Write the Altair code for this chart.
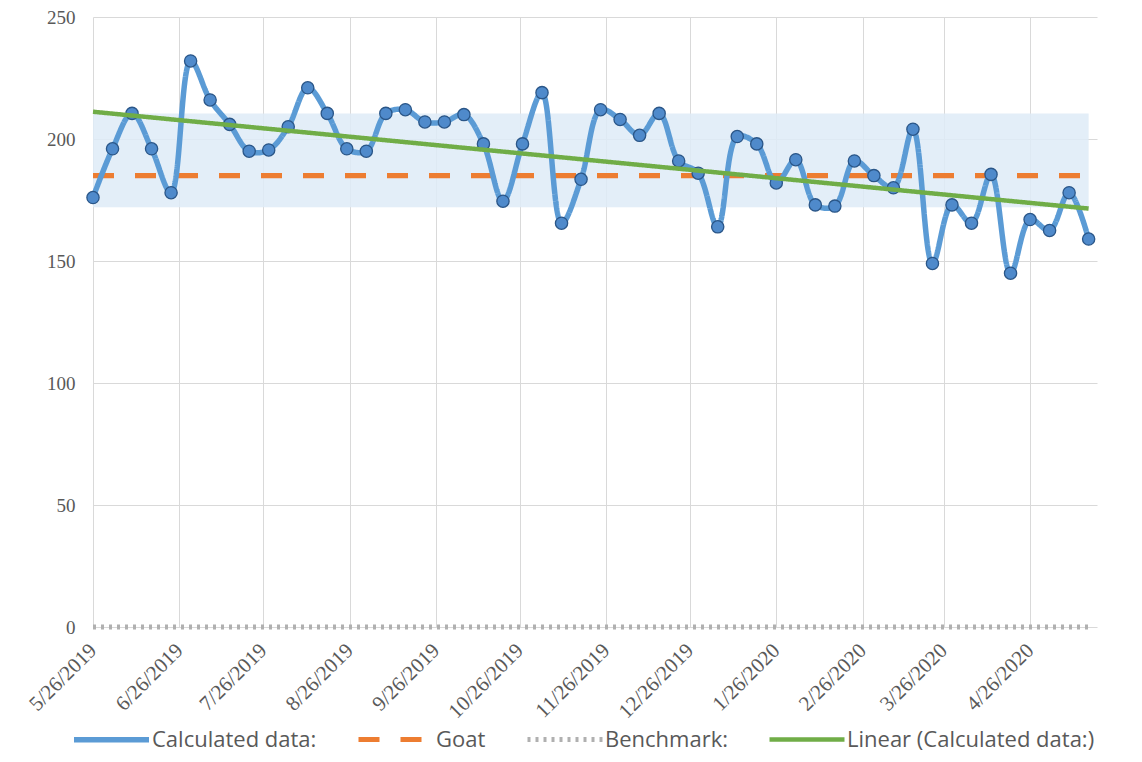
import altair as alt
import pandas as pd

# ---- data ----
DATES = [
    "2019-05-26", "2019-06-02", "2019-06-09", "2019-06-16", "2019-06-23", "2019-06-30",
    "2019-07-07", "2019-07-14", "2019-07-21", "2019-07-28",
    "2019-08-04", "2019-08-11", "2019-08-18", "2019-08-25",
    "2019-09-01", "2019-09-08", "2019-09-15", "2019-09-22", "2019-09-29",
    "2019-10-06", "2019-10-13", "2019-10-20", "2019-10-27",
    "2019-11-03", "2019-11-10", "2019-11-17", "2019-11-24",
    "2019-12-01", "2019-12-08", "2019-12-15", "2019-12-22", "2019-12-29",
    "2020-01-05", "2020-01-12", "2020-01-19", "2020-01-26",
    "2020-02-02", "2020-02-09", "2020-02-16", "2020-02-23",
    "2020-03-01", "2020-03-08", "2020-03-15", "2020-03-22", "2020-03-29",
    "2020-04-05", "2020-04-12", "2020-04-19", "2020-04-26",
    "2020-05-03", "2020-05-10", "2020-05-17",
]
VALUES = [
    176, 196, 210.5, 196, 178, 232, 216, 206, 195, 195.5,
    205, 221, 210.5, 196, 195, 210.5, 212, 207, 207, 210,
    198, 174.5, 198, 219, 165.5, 183.5, 212, 208, 201.5, 210.5,
    191, 186, 164, 201, 198, 182, 191.5, 173, 172.5, 191,
    185, 180, 204, 149, 173, 165.5, 185.5, 145, 167, 162.5,
    178, 159,
]
GOAL = 185
BENCHMARK = 0
BAND_LOW = 172
BAND_HIGH = 210.5

SERIES = ["Calculated data:", "Goat", "Benchmark:", "Linear (Calculated data:)"]
SERIES_COLORS = ["#5b9bd5", "#ed7d31", "#b0b0b0", "#70ad47"]
SERIES_DASH = [[1, 0], [21, 21], [3, 5], [1, 0]]
SERIES_WIDTH = [5.5, 4.5, 1.8, 2.5]

TICK_DATES = [(2019, m) for m in range(5, 13)] + [(2020, m) for m in range(1, 5)]

# ---- tables ----
dates = [d.replace("-", "/") for d in DATES]
df = pd.DataFrame({
    "date": dates,
    "value": VALUES,
    "goal": [GOAL] * len(dates),
    "bench": [BENCHMARK] * len(dates),
    "low": [BAND_LOW] * len(dates),
    "high": [BAND_HIGH] * len(dates),
})

LABEL_COLOR = "#595959"
GRID = "#d9d9d9"

x_scale = alt.Scale(domain=[alt.DateTime(year=2019, month=5, date=26),
                            alt.DateTime(year=2020, month=5, date=20)])
x_axis = alt.Axis(
    values=[alt.DateTime(year=y, month=m, date=26) for y, m in TICK_DATES],
    format="%-m/%-d/%Y", labelAngle=-45, labelAlign="right", labelBaseline="middle",
    labelPadding=20, labelFont="Liberation Serif", labelFontSize=21, labelColor=LABEL_COLOR,
    grid=True, gridColor=GRID, ticks=False, domain=False, title=None, labelOverlap=False,
)
y_scale = alt.Scale(domain=[0, 250], nice=False)
y_axis = alt.Axis(
    values=[0, 50, 100, 150, 200, 250], labelFont="Liberation Serif", labelFontSize=19,
    labelColor=LABEL_COLOR, labelPadding=18, grid=True, gridColor=GRID, ticks=False,
    domain=False, title=None,
)

X = alt.X("date:T", scale=x_scale, axis=x_axis)

color = alt.Color("series:N", scale=alt.Scale(domain=SERIES, range=SERIES_COLORS),
                  legend=alt.Legend(title=None))
dash = alt.StrokeDash("series:N", scale=alt.Scale(domain=SERIES, range=SERIES_DASH),
                      legend=alt.Legend(title=None))
width = alt.StrokeWidth("series:N", scale=alt.Scale(domain=SERIES, range=SERIES_WIDTH),
                        legend=alt.Legend(title=None))

base = alt.Chart(df)

band = base.mark_area(color="#deebf7", opacity=0.85).encode(
    x=X, y=alt.Y("low:Q", scale=y_scale, axis=y_axis), y2="high:Q")

bench = base.transform_calculate(series="'Benchmark:'").mark_line().encode(
    x=X, y=alt.Y("bench:Q", scale=y_scale, axis=y_axis), color=color, strokeDash=dash,
    strokeWidth=width)

goal = base.transform_calculate(series="'Goat'").mark_line().encode(
    x=X, y=alt.Y("goal:Q", scale=y_scale, axis=y_axis), color=color, strokeDash=dash,
    strokeWidth=width)

calc = base.transform_calculate(series="'Calculated data:'").mark_line(
    interpolate="catmull-rom").encode(
    x=X, y=alt.Y("value:Q", scale=y_scale, axis=y_axis), color=color, strokeDash=dash,
    strokeWidth=width)

pts = base.mark_point(filled=True, fill="#4f8acb", stroke="#2a5688", strokeWidth=1.3,
                      size=150, opacity=1).encode(
    x=X, y=alt.Y("value:Q", scale=y_scale, axis=y_axis))

trend = base.transform_calculate(t="toDate(datum.date)").transform_regression(
    "t", "value").transform_calculate(series="'Linear (Calculated data:)'").mark_line().encode(
    x=alt.X("t:T", scale=x_scale, axis=x_axis),
    y=alt.Y("value:Q", scale=y_scale, axis=y_axis), color=color, strokeDash=dash,
    strokeWidth=width)

chart = alt.layer(band, bench, goal, calc, pts, trend).properties(
    width=1004, height=610,
    autosize=alt.AutoSizeParams(type="none"),
    padding={"left": 85, "top": 9, "right": 37, "bottom": 127},
    background="white",
).configure_view(stroke="transparent").configure_legend(
    orient="none", legendX=6, legendY=710, direction="horizontal",
    symbolType="M-4,0H4", symbolSize=351.5, labelFont="Open Sans", labelFontSize=22,
    labelColor=LABEL_COLOR, labelOffset=28, columnPadding=31, symbolStrokeWidth=4,
    labelLimit=400,
)

chart.save("out.html", embed_options={"renderer": "svg", "actions": False})
